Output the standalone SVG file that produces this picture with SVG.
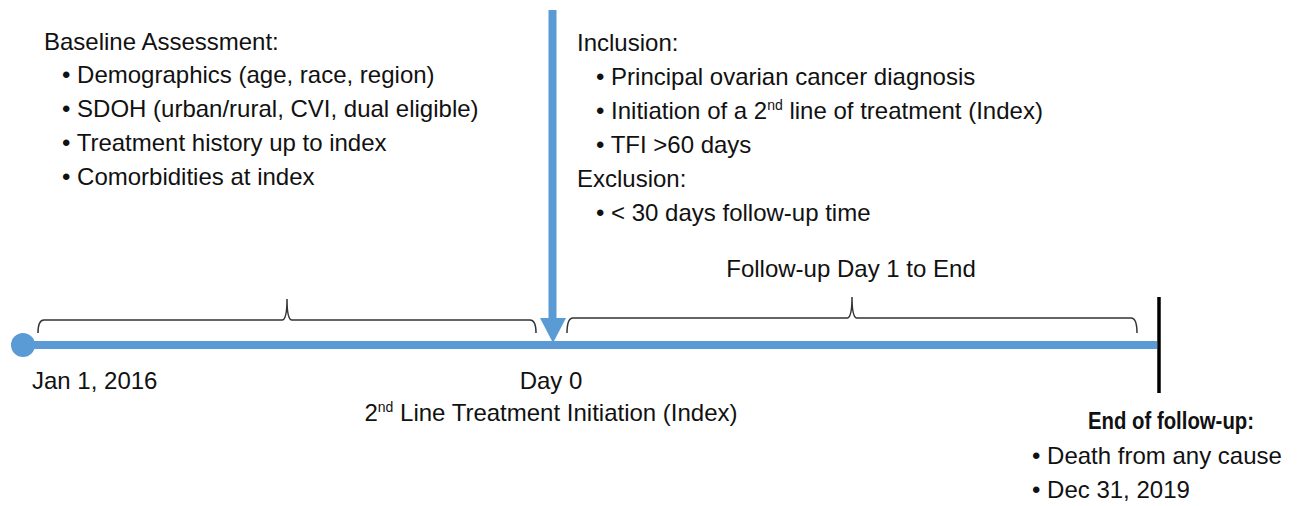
<svg xmlns="http://www.w3.org/2000/svg" width="1303" height="506" viewBox="0 0 1303 506">
<defs>
<style>
text{font-family:"Liberation Sans",Arial,sans-serif;font-size:24px;fill:#111}
.b{font-weight:bold;font-size:23px}
.sup{font-size:14px}
.brace{fill:none;stroke:#333;stroke-width:1.5}
.blue{stroke:#5B9BD5;fill:none}
</style>
</defs>
<rect width="1303" height="506" fill="#fff"/>
<g id="connectors">
<line class="blue" x1="23" y1="345" x2="1157" y2="345" stroke-width="8"/>
<line class="blue" x1="552.5" y1="10" x2="552.5" y2="320" stroke-width="8"/>
<polygon points="540,318 566,318 553,343" fill="#5B9BD5"/>
<line x1="1159" y1="297" x2="1159" y2="393" stroke="#000" stroke-width="3.5"/>
<path class="brace" d="M38,333 Q38,320 44,320 L282,320 Q287,320 287,299 Q287,320 292,320 L530,320 Q536,320 536,333"/>
<path class="brace" d="M567,333 Q567,318 573,318 L847,318 Q852,318 852,297 Q852,318 857,318 L1131,318 Q1137,318 1137,333"/>
</g>
<g id="start"><circle cx="23" cy="345" r="12" fill="#5B9BD5"/>
<text x="32" y="389">Jan 1, 2016</text></g>
<g id="baseline">
<text x="44" y="50">Baseline Assessment:</text>
<text x="62" y="83">• Demographics (age, race, region)</text>
<text x="62" y="117">• SDOH (urban/rural, CVI, dual eligible)</text>
<text x="62" y="151">• Treatment history up to index</text>
<text x="62" y="185">• Comorbidities at index</text>
</g>
<g id="criteria">
<text x="577" y="51">Inclusion:</text>
<text x="596" y="85">• Principal ovarian cancer diagnosis</text>
<text x="596" y="119">• Initiation of a 2<tspan class="sup" dy="-9">nd</tspan><tspan dy="9"> line of treatment (Index)</tspan></text>
<text x="596" y="153">• TFI &gt;60 days</text>
<text x="577" y="187">Exclusion:</text>
<text x="596" y="221">• &lt; 30 days follow-up time</text>
</g>
<g id="index">
<text x="551" y="389" text-anchor="middle">Day 0</text>
<text x="551" y="421" text-anchor="middle">2<tspan class="sup" dy="-9">nd</tspan><tspan dy="9"> Line Treatment Initiation (Index)</tspan></text>
</g>
<g id="followup"><text x="851" y="277" text-anchor="middle">Follow-up Day 1 to End</text></g>
<g id="end">
<text class="b" x="1088" y="429" textLength="166" lengthAdjust="spacingAndGlyphs">End of follow-up:</text>
<text x="1032" y="464">• Death from any cause</text>
<text x="1032" y="498">• Dec 31, 2019</text>
</g>
</svg>
